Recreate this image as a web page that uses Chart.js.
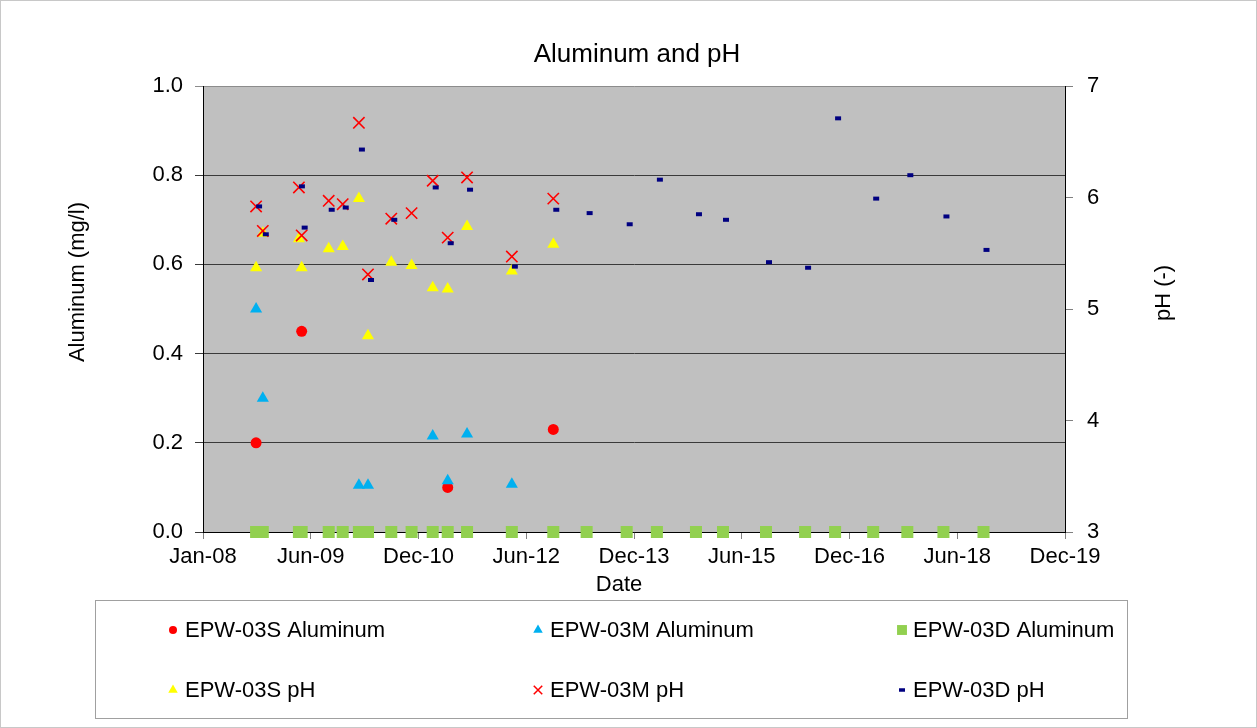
<!DOCTYPE html>
<html>
<head>
<meta charset="utf-8">
<title>Aluminum and pH</title>
<script src="https://cdn.jsdelivr.net/npm/chart.js@4.4.1/dist/chart.umd.min.js"></script>
<style>
  html, body { margin: 0; padding: 0; background: #fff; }
  #wrap { width: 1257px; height: 728px; }
</style>
</head>
<body>
<div id="wrap"><canvas id="chart" width="1257" height="728"></canvas></div>
<script>
const FONT = "'Liberation Sans', Arial, sans-serif";

// sampling dates shared by all six series
const sampleDates = [
  '2008-09-26', '2008-10-30', '2009-05-01', '2009-05-15', '2009-09-29',
  '2009-12-09', '2010-03-01', '2010-04-16', '2010-08-12', '2010-11-23',
  '2011-03-10', '2011-05-25', '2011-08-31', '2012-04-14', '2012-11-10',
  '2013-04-28', '2013-11-17', '2014-04-19', '2014-11-03', '2015-03-20',
  '2015-10-24', '2016-05-09', '2016-10-08', '2017-04-19', '2017-10-09',
  '2018-04-10', '2018-10-30'
];

// aluminum, mg/l (null = not sampled)
const alS = [0.20, null, null, 0.45, null, null, null, null, null, null, null, 0.10, null, null, 0.23,
  null, null, null, null, null, null, null, null, null, null, null, null];
const alM = [0.50, 0.30, null, null, null, null, 0.105, 0.105, null, null, 0.215, 0.115, 0.22, 0.107, null,
  null, null, null, null, null, null, null, null, null, null, null, null];
const alD = [0, 0, 0, 0, 0, 0, 0, 0, 0, 0, 0, 0, 0, 0, 0,
  0, 0, 0, 0, 0, 0, 0, 0, 0, 0, 0, 0];

// pH
const phS = [5.37, 5.68, 5.63, 5.37, 5.54, 5.56, 5.99, 4.76, 5.42, 5.39, 5.19, 5.18, 5.74, 5.34, 5.58,
  null, null, null, null, null, null, null, null, null, null, null, null];
const phM = [5.92, 5.70, 6.09, 5.66, 5.97, 5.94, 6.67, 5.31, 5.81, 5.86, 6.15, 5.64, 6.18, 5.47, 5.99,
  null, null, null, null, null, null, null, null, null, null, null, null];
const phD = [5.92, 5.67, 6.10, 5.73, 5.89, 5.91, 6.43, 5.26, 5.80, null, 6.09, 5.59, 6.07, 5.38, 5.89,
  5.86, 5.76, 6.16, 5.85, 5.80, 5.42, 5.37, 6.71, 5.99, 6.20, 5.83, 5.53];

// x axis: days since Jan 1 2008, one tick every 546 days
const DAY0 = Date.UTC(2008, 0, 1);
const X_STEP = 546;
const X_MAX = 8 * X_STEP;
const MONTHS = ['Jan', 'Feb', 'Mar', 'Apr', 'May', 'Jun', 'Jul', 'Aug', 'Sep', 'Oct', 'Nov', 'Dec'];

const toDay = s => (Date.parse(s + 'T00:00:00Z') - DAY0) / 864e5;
const fmtDay = v => {
  const d = new Date(DAY0 + v * 864e5);
  return MONTHS[d.getUTCMonth()] + '-' + String(d.getUTCFullYear() % 100).padStart(2, '0');
};
const points = vals => sampleDates
  .map((d, i) => ({ x: toDay(d), y: vals[i] }))
  .filter(p => p.y !== null);

const datasets = [
  { label: 'EPW-03S Aluminum', data: points(alS), yAxisID: 'yAl', order: 6,
    pointStyle: 'circle', pointRadius: 5.5, pointBorderWidth: 0,
    backgroundColor: '#FF0000', borderColor: '#FF0000' },
  { label: 'EPW-03M Aluminum', data: points(alM), yAxisID: 'yAl', order: 5,
    pointStyle: 'triangle', pointRadius: 7, pointBorderWidth: 0,
    backgroundColor: '#00B0F0', borderColor: '#00B0F0' },
  { label: 'EPW-03D Aluminum', data: points(alD), yAxisID: 'yAl', order: 4,
    pointStyle: 'rect', pointRadius: 8.5, pointBorderWidth: 0,
    backgroundColor: '#92D050', borderColor: '#92D050' },
  { label: 'EPW-03S pH', data: points(phS), yAxisID: 'yPH', order: 3,
    pointStyle: 'triangle', pointRadius: 7, pointBorderWidth: 0,
    backgroundColor: '#FFFF00', borderColor: '#FFFF00' },
  { label: 'EPW-03M pH', data: points(phM), yAxisID: 'yPH', order: 2,
    pointStyle: 'crossRot', pointRadius: 8, pointBorderWidth: 1.6,
    backgroundColor: '#FF0000', borderColor: '#FF0000' },
  { label: 'EPW-03D pH', data: points(phD), yAxisID: 'yPH', order: 1,
    pointStyle: 'dash', pointRadius: 6, pointBorderWidth: 4,
    backgroundColor: '#000080', borderColor: '#000080' }
];
// markers sitting on the axes must not be cut off
datasets.forEach(ds => { ds.clip = false; });

// legend slots: [dataset index, marker x, marker y, text x, marker radius, border width]
const legendSlots = [
  [0, 173, 630, 185, 4, 0],
  [1, 538, 630, 550, 5.5, 0],
  [2, 902, 630, 913, 7, 0],
  [3, 173, 690, 185, 5.5, 0],
  [4, 538, 690, 550, 6, 1.5],
  [5, 899, 690, 913, 6, 3.5]
];

const plotBackground = {
  id: 'plotBackground',
  beforeDraw(chart) {
    const { ctx, chartArea: a } = chart;
    ctx.save();
    ctx.fillStyle = '#C0C0C0';
    ctx.fillRect(a.left, a.top, a.right - a.left, a.bottom - a.top);
    ctx.restore();
  }
};

const decorations = {
  id: 'decorations',
  afterDraw(chart) {
    const ctx = chart.ctx;
    ctx.save();
    // outer frame
    ctx.strokeStyle = '#C8C8C8';
    ctx.lineWidth = 1;
    ctx.strokeRect(0.5, 0.5, 1256, 727);

    // titles
    ctx.fillStyle = '#000';
    ctx.textBaseline = 'middle';
    ctx.textAlign = 'center';
    ctx.font = '26px ' + FONT;
    ctx.fillText('Aluminum and pH', 637, 55);
    ctx.font = '22px ' + FONT;
    ctx.fillText('Date', 619, 585);

    ctx.save();
    ctx.translate(78, 282);
    ctx.rotate(-Math.PI / 2);
    ctx.fillText('Aluminum (mg/l)', 0, 0);
    ctx.restore();

    ctx.save();
    ctx.translate(1164, 293);
    ctx.rotate(-Math.PI / 2);
    ctx.fillText('pH (-)', 0, 0);
    ctx.restore();

    // legend box
    ctx.strokeStyle = '#A0A0A0';
    ctx.strokeRect(95.5, 600.5, 1032, 118);

    legendSlots.forEach(([i, mx, my, tx, r, bw]) => {
      const ds = chart.data.datasets[i];
      ctx.fillStyle = ds.backgroundColor;
      ctx.strokeStyle = ds.borderColor;
      ctx.lineWidth = bw;
      Chart.helpers.drawPoint(ctx, { pointStyle: ds.pointStyle, radius: r, rotation: 0, borderWidth: bw }, mx, my);
      ctx.fillStyle = '#000';
      ctx.textAlign = 'left';
      ctx.textBaseline = 'middle';
      ctx.font = '22px ' + FONT;
      ctx.fillText(ds.label, tx, my + 1);
    });
    ctx.restore();
  }
};

new Chart(document.getElementById('chart'), {
  type: 'scatter',
  data: { datasets },
  plugins: [plotBackground, decorations],
  options: {
    responsive: false,
    animation: false,
    devicePixelRatio: 1,
    layout: { padding: { top: 86, bottom: 136, left: 0, right: 0 } },
    plugins: {
      legend: { display: false },
      title: { display: false },
      tooltip: { enabled: false }
    },
    scales: {
      x: {
        type: 'linear',
        position: 'bottom',
        min: 0,
        max: X_MAX,
        afterFit: s => { s.height = 60; },
        ticks: {
          stepSize: X_STEP,
          autoSkip: false,
          maxRotation: 0,
          padding: 5,
          color: '#000',
          font: { family: FONT, size: 22 },
          callback: v => fmtDay(v)
        },
        grid: { drawOnChartArea: false, tickLength: 7, color: '#808080' },
        border: { color: '#000', width: 1 }
      },
      yAl: {
        type: 'linear',
        position: 'left',
        min: 0,
        max: 1,
        afterFit: s => { s.width = 203; },
        ticks: {
          stepSize: 0.2,
          padding: 12,
          color: '#000',
          font: { family: FONT, size: 22 },
          callback: v => v.toFixed(1)
        },
        grid: {
          tickLength: 8,
          color: c => (c.tick && c.tick.value === 1 ? '#8C8C8C' : '#3A3A3A')
        },
        border: { color: '#000', width: 1 }
      },
      yPH: {
        type: 'linear',
        position: 'right',
        min: 3,
        max: 7,
        afterFit: s => { s.width = 192; },
        ticks: {
          stepSize: 1,
          padding: 14,
          color: '#000',
          font: { family: FONT, size: 22 }
        },
        grid: { drawOnChartArea: false, tickLength: 8, color: '#808080' },
        border: { color: '#000', width: 1 }
      }
    }
  }
});
</script>
</body>
</html>
